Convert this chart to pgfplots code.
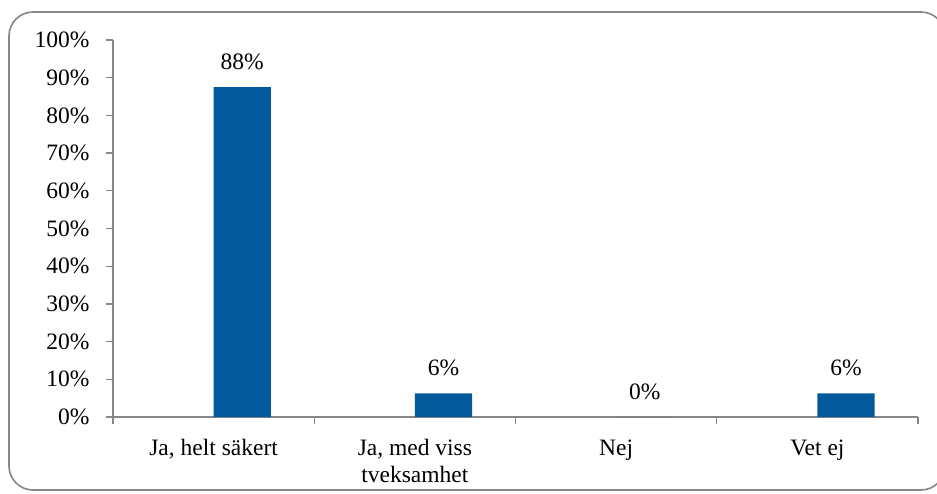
\documentclass[border=0pt]{standalone}
\usepackage{pgfplots}
\pgfplotsset{compat=1.18}
\usepackage{fontspec}
\setmainfont{Liberation Serif}
\definecolor{barblue}{HTML}{02599C}
\definecolor{axgray}{HTML}{868686}
\begin{document}
\begin{tikzpicture}[x=1pt,y=1pt]
\clip (0,0) rectangle (937,493);
\path[use as bounding box] (0,0) rectangle (937,493);
\draw[axgray, line width=1.6pt, rounded corners=24pt] (9,3) rectangle (945,481);
\begin{axis}[
  at={(113pt,76pt)}, anchor=south west,
  scale only axis, width=805pt, height=377pt,
  xmin=-0.5, xmax=3.5, ymin=0, ymax=100,
  axis x line*=bottom, axis y line*=left,
  axis line style={axgray, line width=1.2pt},
  xtick={0,1,2,3},
  xticklabels={{Ja, helt säkert},{Ja, med viss\\tveksamhet},{Nej},{Vet ej}},
  major x tick style={draw=none},
  minor xtick={-0.5,0.5,1.5,2.5,3.5},
  minor tick length=7pt,
  minor x tick style={axgray, line width=1.2pt},
  ytick={0,10,...,100},
  yticklabel={\pgfmathprintnumber{\tick}\%},
  major tick length=7pt,
  y tick style={axgray, line width=1.2pt},
  tick align=outside,
  tick label style={font=\fontsize{23.5}{27}\selectfont},
  /pgf/number format/assume math mode=true,
  x tick label style={align=center, yshift=-12pt},
  y tick label style={xshift=-13pt},
  ybar, bar width=0.284, bar shift=0.142,
  nodes near coords={\pgfmathprintnumber[fixed,precision=0]{\pgfplotspointmeta}\%},
  nodes near coords style={font=\fontsize{23.5}{27}\selectfont, black, yshift=14pt},
  clip=false,
]
\addplot[fill=barblue, draw=none] coordinates {(0,87.5) (1,6.25) (2,0) (3,6.25)};
\end{axis}
\end{tikzpicture}
\end{document}
